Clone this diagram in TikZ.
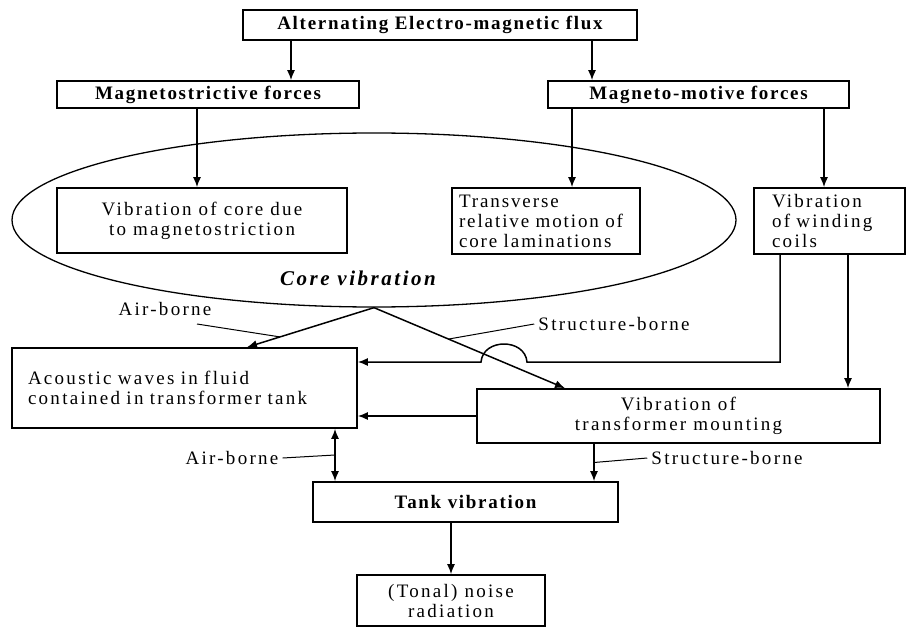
\documentclass[tikz,border=0pt]{standalone}
\usepackage{fontspec}
\setmainfont{Liberation Serif}[LetterSpace=12]
\usetikzlibrary{shapes.geometric, arrows.meta, positioning, calc}

\begin{document}
\begin{tikzpicture}[
    x=1pt, y=-1pt,
    font=\fontsize{19}{20}\selectfont,
    nodebox/.style = {rectangle, draw=black, line width=1.6pt, inner sep=0pt, align=center},
    leftbox/.style = {nodebox, align=left, inner xsep=8pt},
    headfont/.style = {font=\fontsize{19}{20}\selectfont\bfseries\addfontfeature{LetterSpace=9}},
    conn/.style = {draw=black, line width=1.5pt, -{Latex[length=10pt,width=8pt]}},
    leader/.style = {draw=black, line width=1pt},
    tag/.style = {inner sep=0pt}
]
\useasboundingbox (0,0) rectangle (909,628);

% Nodes
\node (n_flux) [nodebox, headfont, minimum width=394pt, minimum height=30pt] at (440,25) {Alternating Electro-magnetic flux};

\node (n_mstr) [nodebox, headfont, minimum width=302pt, minimum height=27pt] at (208,94.5) {Magnetostrictive forces};
\node (n_mmf) [nodebox, headfont, minimum width=301pt, minimum height=27pt] at (698.5,94.5) {Magneto-motive forces};

\node (n_core) [draw=black, line width=1.3pt, ellipse, inner sep=0pt, minimum width=724pt, minimum height=174pt] at (374,220) {};

\node (n_corevib) [nodebox, minimum width=290pt, minimum height=65pt] at (202,220.5) {Vibration of core due\\to magnetostriction};
\node (n_trans) [leftbox, inner xsep=7pt, text width=174pt, minimum height=66pt, font=\fontsize{19}{20}\selectfont\addfontfeature{LetterSpace=10}] at (546,221) {Transverse\\relative motion of\\core laminations};
\node (n_wind) [leftbox, inner xsep=18pt, text width=115pt, minimum height=66pt] at (829.5,221) {Vibration\\of winding\\coils};

\node (n_corelbl) [tag, font=\fontsize{21}{22}\selectfont\bfseries\itshape] at (358,278) {Core vibration};

\node (n_acou) [leftbox, inner xsep=16pt, text width=313pt, minimum height=80pt] at (184.5,388) {Acoustic waves in fluid\\contained in transformer tank};
\node (n_mount) [nodebox, minimum width=403pt, minimum height=54pt] at (678.5,416) {Vibration of\\transformer mounting};

\node (n_tank) [nodebox, headfont, minimum width=305pt, minimum height=40pt] at (465.5,502) {Tank vibration};
\node (n_tonal) [nodebox, minimum width=188pt, minimum height=51pt] at (451,600.5) {(Tonal) noise\\radiation};

% Labels
\node (n_air1) [tag] at (165,309) {Air-borne};
\node (n_str1) [tag] at (614,324) {Structure-borne};
\node (n_air2) [tag] at (232,458) {Air-borne};
\node (n_str2) [tag] at (727,458) {Structure-borne};

% Connections
\draw [conn] (n_flux.south -| 291,0) -- (n_mstr.north -| 291,0);
\draw [conn] (n_flux.south -| 592,0) -- (n_mmf.north -| 592,0);
\draw [conn] (n_mstr.south -| 197,0) -- (n_corevib.north -| 197,0);
\draw [conn] (n_mmf.south -| 572,0) -- (n_trans.north -| 572,0);
\draw [conn] (n_mmf.south -| 824,0) -- (n_wind.north -| 824,0);

\draw [conn] (n_core.south) -- coordinate[pos=0.74] (c_air) (n_acou.north -| 247,0);
\draw [conn] (n_core.south) -- coordinate[pos=0.39] (c_str) (n_mount.north -| 565,0);

\draw [conn] (n_wind.south -| 780,0) |- (527,362) .. controls (525,338) and (483,338) .. (481,362) -- (n_acou.east |- 0,362);
\draw [conn] (n_wind.south -| 848,0) -- (n_mount.north -| 848,0);
\draw [conn] (n_mount.west |- 0,416) -- (n_acou.east |- 0,416);
\draw [conn, {Latex[length=10pt,width=8pt]}-{Latex[length=10pt,width=8pt]}] (n_acou.south -| 335,0) -- coordinate (c_air2) (n_tank.north -| 335,0);
\draw [conn] (n_mount.south -| 594,0) -- coordinate (c_str2) (n_tank.north -| 594,0);
\draw [conn] (n_tank.south -| n_tonal.north) -- (n_tonal.north);

% Leaders
\draw [leader] (197,324) -- (c_air);
\draw [leader] (n_str1.west) ++(-4,0) -- (c_str);
\draw [leader] (n_air2.east) ++(4,0) -- (c_air2 -| 335,0);
\draw [leader] (c_str2 -| 594,0) -- ($(n_str2.west)+(-4,0)$);

\end{tikzpicture}
\end{document}
